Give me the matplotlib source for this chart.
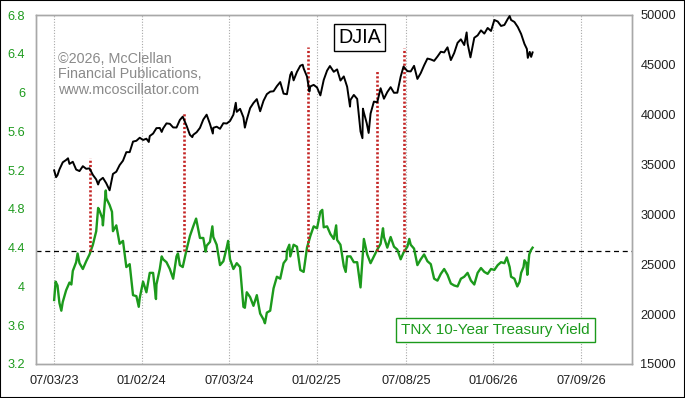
import matplotlib
matplotlib.use('Agg')
import matplotlib.pyplot as plt
import pandas as pd
from matplotlib.patches import Rectangle

plt.rcParams['font.family'] = ['Liberation Sans', 'DejaVu Sans']

# ---------------- data ----------------
djia_dates = [
    "2023-07-03", "2023-07-07", "2023-07-10", "2023-07-14", "2023-07-21", "2023-07-28", "2023-08-01",
    "2023-08-04", "2023-08-11", "2023-08-18", "2023-08-25", "2023-09-01", "2023-09-08", "2023-09-15",
    "2023-09-22", "2023-09-29", "2023-10-03", "2023-10-06", "2023-10-13", "2023-10-20", "2023-10-27",
    "2023-11-03", "2023-11-10", "2023-11-17", "2023-11-24", "2023-12-01", "2023-12-08", "2023-12-15",
    "2023-12-22", "2023-12-29", "2024-01-05", "2024-01-12", "2024-01-17", "2024-01-19", "2024-01-26",
    "2024-02-02", "2024-02-09", "2024-02-13", "2024-02-16", "2024-02-23", "2024-03-01", "2024-03-08",
    "2024-03-15", "2024-03-22", "2024-03-28", "2024-04-05", "2024-04-12", "2024-04-17", "2024-04-19",
    "2024-04-26", "2024-05-03", "2024-05-10", "2024-05-17", "2024-05-24", "2024-05-30", "2024-05-31",
    "2024-06-07", "2024-06-14", "2024-06-21", "2024-06-28", "2024-07-05", "2024-07-12", "2024-07-17",
    "2024-07-19", "2024-07-26", "2024-08-02", "2024-08-05", "2024-08-09", "2024-08-16", "2024-08-23",
    "2024-08-30", "2024-09-06", "2024-09-13", "2024-09-20", "2024-09-27", "2024-10-04", "2024-10-11",
    "2024-10-18", "2024-10-25", "2024-11-01", "2024-11-08", "2024-11-11", "2024-11-15", "2024-11-22",
    "2024-11-29", "2024-12-04", "2024-12-06", "2024-12-13", "2024-12-18", "2024-12-20", "2024-12-27",
    "2025-01-03", "2025-01-10", "2025-01-17", "2025-01-24", "2025-01-30", "2025-02-07", "2025-02-14",
    "2025-02-21", "2025-02-28", "2025-03-07", "2025-03-13", "2025-03-14", "2025-03-21", "2025-03-28",
    "2025-04-04", "2025-04-08", "2025-04-09", "2025-04-11", "2025-04-17", "2025-04-21", "2025-04-25",
    "2025-05-02", "2025-05-09", "2025-05-16", "2025-05-23", "2025-05-30", "2025-06-06", "2025-06-13",
    "2025-06-20", "2025-06-27", "2025-07-03", "2025-07-11", "2025-07-18", "2025-07-25", "2025-08-01",
    "2025-08-08", "2025-08-15", "2025-08-22", "2025-08-29", "2025-09-05", "2025-09-12", "2025-09-19",
    "2025-09-26", "2025-10-03", "2025-10-10", "2025-10-17", "2025-10-24", "2025-10-31", "2025-11-07",
    "2025-11-12", "2025-11-14", "2025-11-20", "2025-11-28", "2025-12-05", "2025-12-12", "2025-12-19",
    "2025-12-26", "2026-01-02", "2026-01-09", "2026-01-16", "2026-01-23", "2026-01-30", "2026-02-06",
    "2026-02-10", "2026-02-13", "2026-02-20", "2026-02-27", "2026-03-06", "2026-03-13", "2026-03-18",
    "2026-03-20", "2026-03-24", "2026-03-27", "2026-03-30",
]
djia_values = [
    34418, 33734, 33944, 34509, 35228, 35459, 35630,
    35066, 35281, 34500, 34346, 34838, 34576, 34618,
    33964, 33507, 33002, 33407, 33670, 33127, 32418,
    34061, 34283, 34947, 35390, 36245, 36247, 37305,
    37385, 37690, 37466, 37593, 37266, 37863, 38109,
    38654, 38671, 38273, 38627, 39131, 39087, 38723,
    38714, 39475, 39807, 38904, 37983, 37753, 37986,
    38239, 38676, 39513, 40004, 39070, 38112, 38686,
    38799, 38589, 39150, 39119, 39375, 40001, 41198,
    40287, 40589, 39737, 38703, 39498, 40660, 41175,
    41563, 40345, 41394, 42063, 42313, 42353, 42864,
    43276, 42114, 42052, 43989, 44293, 43445, 44297,
    44911, 45014, 44643, 43828, 42327, 42840, 42992,
    42732, 41938, 43488, 44424, 44882, 44303, 44546,
    43428, 43841, 42802, 40814, 41488, 41985, 41584,
    38315, 37645, 40608, 40213, 39142, 38170, 40114,
    41317, 41249, 42655, 41603, 42270, 42763, 42198,
    42207, 43819, 44829, 44371, 44342, 44902, 43589,
    44176, 44946, 45632, 45545, 45401, 45834, 46315,
    46247, 46758, 45480, 46191, 47207, 47563, 46987,
    48254, 47147, 45752, 47716, 47955, 48458, 48135,
    48700, 48400, 49500, 49350, 48900, 49000, 49600,
    49900, 49500, 49300, 48800, 48100, 47100, 46600,
    45700, 46300, 45800, 46250,
]

tnx_dates = [
    "2023-07-03", "2023-07-06", "2023-07-10", "2023-07-14", "2023-07-18", "2023-07-21", "2023-07-28",
    "2023-08-04", "2023-08-08", "2023-08-11", "2023-08-18", "2023-08-21", "2023-08-25", "2023-09-01",
    "2023-09-08", "2023-09-15", "2023-09-22", "2023-09-29", "2023-10-03", "2023-10-06", "2023-10-12",
    "2023-10-13", "2023-10-19", "2023-10-20", "2023-10-27", "2023-11-01", "2023-11-03", "2023-11-10",
    "2023-11-17", "2023-11-24", "2023-12-01", "2023-12-08", "2023-12-15", "2023-12-22", "2023-12-27",
    "2023-12-29", "2024-01-05", "2024-01-12", "2024-01-19", "2024-01-26", "2024-02-01", "2024-02-02",
    "2024-02-09", "2024-02-13", "2024-02-16", "2024-02-23", "2024-03-01", "2024-03-08", "2024-03-15",
    "2024-03-18", "2024-03-22", "2024-03-28", "2024-04-05", "2024-04-12", "2024-04-19", "2024-04-25",
    "2024-05-03", "2024-05-10", "2024-05-15", "2024-05-17", "2024-05-24", "2024-05-29", "2024-05-31",
    "2024-06-07", "2024-06-14", "2024-06-21", "2024-06-28", "2024-07-01", "2024-07-05", "2024-07-12",
    "2024-07-19", "2024-07-26", "2024-08-02", "2024-08-05", "2024-08-09", "2024-08-16", "2024-08-23",
    "2024-08-30", "2024-09-06", "2024-09-13", "2024-09-16", "2024-09-20", "2024-09-27", "2024-10-04",
    "2024-10-11", "2024-10-18", "2024-10-25", "2024-10-31", "2024-11-01", "2024-11-06", "2024-11-08",
    "2024-11-15", "2024-11-22", "2024-11-29", "2024-12-06", "2024-12-13", "2024-12-20", "2024-12-27",
    "2025-01-03", "2025-01-10", "2025-01-14", "2025-01-17", "2025-01-24", "2025-01-31", "2025-02-07",
    "2025-02-12", "2025-02-14", "2025-02-21", "2025-02-28", "2025-03-04", "2025-03-07", "2025-03-14",
    "2025-03-21", "2025-03-28", "2025-04-04", "2025-04-11", "2025-04-18", "2025-04-25", "2025-05-02",
    "2025-05-09", "2025-05-16", "2025-05-21", "2025-05-23", "2025-05-30", "2025-06-06", "2025-06-13",
    "2025-06-20", "2025-06-27", "2025-07-03", "2025-07-11", "2025-07-15", "2025-07-18", "2025-07-25",
    "2025-08-01", "2025-08-08", "2025-08-15", "2025-08-22", "2025-08-29", "2025-09-05", "2025-09-12",
    "2025-09-19", "2025-09-26", "2025-10-03", "2025-10-10", "2025-10-17", "2025-10-24", "2025-10-31",
    "2025-11-07", "2025-11-14", "2025-11-21", "2025-11-28", "2025-12-05", "2025-12-12", "2025-12-19",
    "2025-12-26", "2026-01-02", "2026-01-09", "2026-01-16", "2026-01-23", "2026-01-30", "2026-02-04",
    "2026-02-10", "2026-02-13", "2026-02-20", "2026-02-26", "2026-03-03", "2026-03-06", "2026-03-11",
    "2026-03-13", "2026-03-17", "2026-03-19", "2026-03-23", "2026-03-26", "2026-03-30",
]
tnx_values = [
    3.86, 4.05, 4.01, 3.83, 3.75, 3.84, 3.96,
    4.04, 4.02, 4.16, 4.25, 4.34, 4.24, 4.18,
    4.26, 4.33, 4.43, 4.57, 4.81, 4.78, 4.70,
    4.63, 4.99, 4.91, 4.84, 4.77, 4.57, 4.63,
    4.44, 4.47, 4.20, 4.23, 3.91, 3.90, 3.79,
    3.88, 4.05, 3.94, 4.14, 4.14, 3.87, 4.02,
    4.18, 4.31, 4.28, 4.25, 4.18, 4.08, 4.31,
    4.34, 4.22, 4.20, 4.38, 4.52, 4.62, 4.70,
    4.50, 4.50, 4.36, 4.42, 4.46, 4.62, 4.51,
    4.43, 4.22, 4.26, 4.40, 4.47, 4.28, 4.18,
    4.24, 4.20, 3.79, 3.78, 3.94, 3.89, 3.80,
    3.91, 3.72, 3.66, 3.62, 3.73, 3.75, 3.98,
    4.10, 4.08, 4.24, 4.28, 4.37, 4.43, 4.31,
    4.43, 4.41, 4.17, 4.15, 4.40, 4.52, 4.62,
    4.60, 4.77, 4.79, 4.61, 4.62, 4.54, 4.49,
    4.63, 4.48, 4.43, 4.21, 4.15, 4.31, 4.31,
    4.25, 4.25, 3.99, 4.49, 4.33, 4.24, 4.31,
    4.38, 4.44, 4.60, 4.51, 4.40, 4.51, 4.41,
    4.38, 4.28, 4.35, 4.41, 4.49, 4.43, 4.39,
    4.22, 4.28, 4.33, 4.26, 4.23, 4.08, 4.06,
    4.13, 4.18, 4.12, 4.03, 4.01, 4.00, 4.08,
    4.10, 4.14, 4.06, 4.02, 4.14, 4.19, 4.15,
    4.13, 4.18, 4.17, 4.22, 4.25, 4.24, 4.30,
    4.20, 4.10, 4.08, 4.00, 4.05, 4.14, 4.20,
    4.27, 4.24, 4.12, 4.33, 4.37, 4.40,
]

tick_dates = ["2023-07-03", "2024-01-02", "2024-07-03", "2025-01-02",
              "2025-07-08", "2026-01-06", "2026-07-09"]
tick_labels = ["07/03/23", "01/02/24", "07/03/24", "01/02/25",
               "07/08/25", "01/06/26", "07/09/26"]

tnx_ticks = [3.2, 3.6, 4.0, 4.4, 4.8, 5.2, 5.6, 6.0, 6.4, 6.8]
tnx_tick_labels = ["3.2", "3.6", "4", "4.4", "4.8", "5.2", "5.6", "6", "6.4", "6.8"]
djia_ticks = [15000, 20000, 25000, 30000, 35000, 40000, 45000, 50000]

threshold = 4.37
signal_dates = ["2023-09-15", "2024-03-31", "2024-12-15", "2025-05-09", "2025-07-03"]
signal_tops = [5.33, 5.79, 6.47, 6.22, 6.46]   # in TNX-axis units

# ---------------- figure ----------------
W, H = 685, 398
fig = plt.figure(figsize=(W / 100, H / 100), dpi=100)
fig.patch.set_facecolor('white')
ax = fig.add_axes([36 / W, 1 - 364 / H, (632 - 36) / W, (364 - 15) / H])
ax2 = ax.twinx()

green = '#1c9a1c'
red = '#c42424'

td = pd.to_datetime(tnx_dates)
dd = pd.to_datetime(djia_dates)

ax.plot(td, tnx_values, color=green, lw=1.7, zorder=3)
ax2.plot(dd, djia_values, color='black', lw=1.4, zorder=3)

ax.axhline(threshold, color='black', lw=0.9, ls=(0, (4, 3)), zorder=2)
for d, top in zip(pd.to_datetime(signal_dates), signal_tops):
    ax.plot([d, d], [threshold, top], color=red, lw=1.9, ls=(0, (0.8, 0.8)), zorder=4)

ax.set_xlim(pd.Timestamp("2023-05-26"), pd.Timestamp("2026-10-24"))
ax.set_ylim(3.2, 6.8)
ax2.set_ylim(15000, 50000)

ax.set_xticks(pd.to_datetime(tick_dates))
ax.set_xticklabels(tick_labels)
ax.set_yticks(tnx_ticks)
ax.set_yticklabels(tnx_tick_labels)
ax2.set_yticks(djia_ticks)
ax2.set_yticklabels([str(v) for v in djia_ticks])

ax.tick_params(axis='x', length=0, pad=8, labelsize=9.2, colors='#202020')
ax.tick_params(axis='y', length=0, pad=8, labelsize=9.2, labelcolor=green)
ax2.tick_params(axis='y', length=0, pad=6, labelsize=9.2, labelcolor='#202020')

ax.grid(axis='x', color='#a8a8a8', lw=0.8, ls=(0, (1, 1.5)))
ax.set_axisbelow(True)

for a in (ax, ax2):
    for s in a.spines.values():
        s.set_color('#a8a8a8')
        s.set_linewidth(1)

fig.text(58 / W, 1 - 52 / H, "\u00a92026, McClellan\nFinancial Publications,\nwww.mcoscillator.com",
         ha='left', va='top', fontsize=10.4, color='#8a8a8a', linespacing=1.12)

fig.text(359.5 / W, 1 - 37.5 / H, "DJIA", ha='center', va='center', fontsize=14.2, color='black',
         bbox=dict(boxstyle='square,pad=0.22', fc='white', ec='black', lw=1))

fig.text(495.5 / W, 1 - 330 / H, "TNX 10-Year Treasury Yield", ha='center', va='center',
         fontsize=11, color=green,
         bbox=dict(boxstyle='square,pad=0.34', fc='white', ec=green, lw=1))

fig.patches.append(Rectangle((0, 0), 1, 1, transform=fig.transFigure, fill=False,
                             ec='black', lw=1.5, zorder=10))

fig.savefig("out.png", dpi=100)
